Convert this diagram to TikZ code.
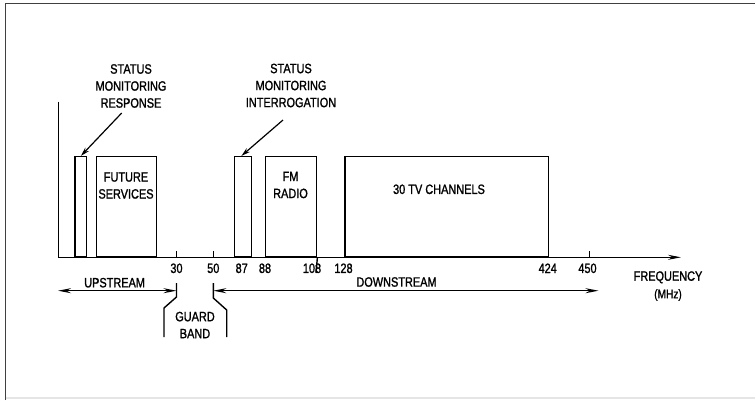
\documentclass[tikz,border=0pt]{standalone}
\usepackage{fontspec}
\setmainfont{Liberation Sans}[FakeStretch=0.81,FakeBold=1.3]
\usetikzlibrary{arrows.meta}
\begin{document}
\begin{tikzpicture}[x=1pt,y=-1pt,line width=1.4pt,
  lbl/.style={font=\fontsize{13.5}{17}\selectfont,align=center,inner sep=0pt},
  num/.style={font=\fontsize{13.5}{15}\selectfont,inner sep=0pt},
  band/.style={draw,inner sep=0pt,anchor=south west,minimum height=100pt},
  axarrow/.style={-{Stealth[length=13pt,width=5pt]}},
  dblarrow/.style={{Stealth[length=13pt,width=5pt]}-{Stealth[length=13pt,width=5pt]}},
  callout/.style={line width=1.2pt,-{Stealth[length=9pt,width=5pt]}}]
\useasboundingbox (0,0) rectangle (755,400);
% frame
\draw[line width=1.6pt,black!75] (5.5,400) -- (5.5,3.5) -- (755,3.5);
\draw[line width=2pt,black!10] (5.5,398) -- (755,398);
% axes
\coordinate (yb) at (58.3,257.3);
\coordinate (yt) at (58.3,101.7);
\coordinate (xe) at (681,257.3);
\draw (yt) -- (yb);
\draw[axarrow] (yb) -- (xe);
% bands
\node[band,minimum width=11.2pt] (rbox) at (74.3,257.3) {};
\node[band,minimum width=60.3pt] (fbox) at (95.7,257.3) {};
\node[band,minimum width=16.7pt] (ibox) at (234,257.3) {};
\node[band,minimum width=51pt] (fmbox) at (265,257.3) {};
\node[band,minimum width=203.7pt] (tvbox) at (344.3,257.3) {};
\coordinate (f108) at (316,273);
\draw (fmbox.south east) -- (f108);
% ticks
\coordinate (t30) at (176.5,257.3);
\coordinate (t50) at (213.3,257.3);
\coordinate (t450) at (589.3,257.3);
\draw (t30) -- ++(0,-6.8);
\draw (t50) -- ++(0,-6.8);
\draw (t450) -- ++(0,-6.8);
% band labels
\node[lbl] (fut) at (126,185.5) {FUTURE\\SERVICES};
\node[lbl] (fm) at (290.5,185) {FM\\RADIO};
\node[lbl] (tv) at (439,189.3) {30 TV CHANNELS};
\node[lbl] (resp) at (131,86) {STATUS\\MONITORING\\RESPONSE};
\node[lbl] (intr) at (291,85.5) {STATUS\\MONITORING\\INTERROGATION};
\coordinate (rs) at (121.7,113);
\coordinate (is) at (283,120);
\draw[callout] (rs) -- ([xshift=0.3pt]rbox.north);
\draw[callout] (is) -- ([xshift=-1.6pt]ibox.north);
% numbers
\node[num] (n30) at (176.5,268.3) {30};
\node[num] (n50) at (213.3,268.3) {50};
\node[num] (n87) at (241.7,268.3) {87};
\node[num] (n88) at (265,268.3) {88};
\node[num] (n108) at (312,268.3) {108};
\node[num] (n128) at (343.5,268.3) {128};
\node[num] (n424) at (547.7,268.3) {424};
\node[num] (n450) at (587.5,268.3) {450};
% up/down stream
\coordinate (ua) at (58,290.7);
\coordinate (ub) at (176.5,290.7);
\coordinate (da) at (213.3,290.7);
\coordinate (db) at (598.5,290.7);
\draw[dblarrow] (ua) -- (ub);
\draw[dblarrow] (da) -- (db);
\node[lbl] (up) at (114.6,282.7) {UPSTREAM};
\node[lbl] (down) at (396.5,282) {DOWNSTREAM};
% guard band
\draw (176.5,283) -- (176.5,297) -- (164,308) -- (164,337);
\draw (213.3,283) -- (213.3,298) -- (226.7,310) -- (226.7,337);
\node[lbl] (gb) at (195,325) {GUARD\\BAND};
% frequency
\node[lbl] (freq) at (668,277.3) {FREQUENCY};
\node[lbl,font=\fontsize{12.5}{15}\selectfont] (mhz) at (668,295) {(MHz)};
\end{tikzpicture}
\end{document}
